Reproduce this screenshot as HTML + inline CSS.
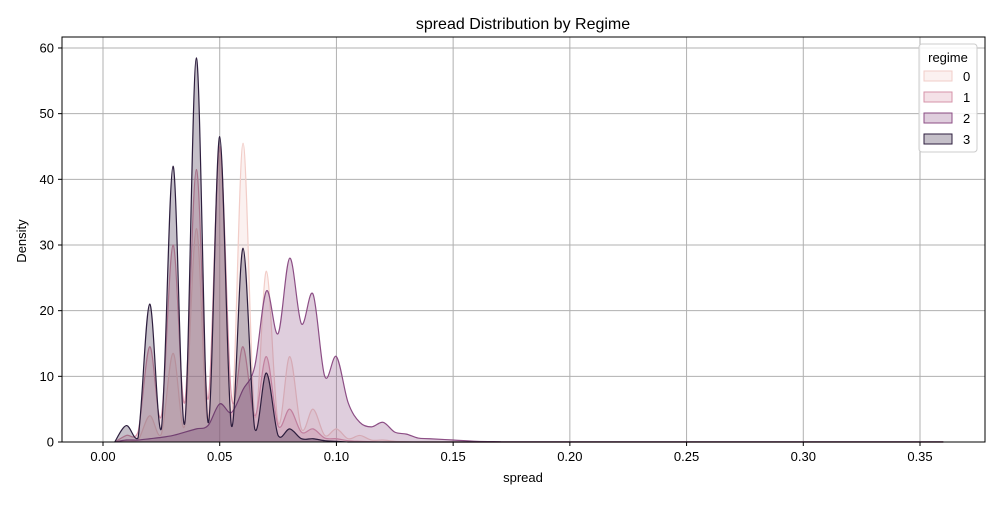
<!DOCTYPE html>
<html><head><meta charset="utf-8"><style>
body{margin:0;background:#fff;font-family:"Liberation Sans","DejaVu Sans",sans-serif}
svg text{font-family:"Liberation Sans","DejaVu Sans",sans-serif}
</style></head><body>
<svg id="chart" width="1000" height="500" xmlns="http://www.w3.org/2000/svg">
<text x="523" y="29" font-size="16" text-anchor="middle">spread Distribution by Regime</text>
<g id="grid"></g>
<g id="series"></g>
<rect x="62" y="37" width="923" height="405" fill="none" stroke="#000" stroke-width="1"/>
<g id="axes"></g>
<text x="523" y="482" font-size="13" text-anchor="middle">spread</text>
<text x="26" y="241" font-size="13" text-anchor="middle" transform="rotate(-90 26 241)">Density</text>
<g id="legend"></g>
</svg>
<script>
const xKnots=[0.005,0.01,0.015,0.02,0.025,0.03,0.035,0.04,0.045,0.05,0.055,0.06,0.065,0.07,0.075,0.08,0.085,0.09,0.095,0.10,0.105,0.11,0.115,0.12,0.125,0.13,0.135,0.14,0.15,0.16,0.17,0.18,0.36];
const regime0=[0,0.2,0.3,4,1.2,13.5,2.5,32.5,3.5,44,4,45.5,4,26,3,13,2,5,1,2,0.5,1,0.3,0.3,0.1,0.05,0,0,0,0,0,0,0];
const regime1=[0,1,1.5,14.5,4,30,6,41.5,6.5,45,7,14.5,4,13,2.5,5,1.5,2,0.6,0.5,0.2,0.1,0.05,0,0,0,0,0,0,0,0,0,0];
const regime2=[0,0.3,0.3,0.5,0.7,1,1.5,2,2.5,5.8,4.5,8,11.5,23,16.5,28,18,22.5,10,13,6,3,2.3,3,1.5,1.2,0.6,0.5,0.3,0.1,0.05,0.02,0.02];
const regime3=[0,2.5,0.6,21,2,42,2.8,58.5,3,46.5,2.5,29.5,2,10.5,1,2,0.5,0.5,0.2,0.1,0,0,0,0,0,0,0,0,0,0,0,0,0];
const seriesNames=["0","1","2","3"];
const seriesValues=[regime0,regime1,regime2,regime3];
const colors=["#f2cdc8","#d693a8","#8c4e85","#2d1e3e"];
const xTicks=[0,0.05,0.1,0.15,0.2,0.25,0.3,0.35];
const xTickLabels=["0.00","0.05","0.10","0.15","0.20","0.25","0.30","0.35"];
const yTicks=[0,10,20,30,40,50,60];
const NS="http://www.w3.org/2000/svg";
const X=v=>103+v/0.35*817, Y=v=>442-v*6.567;
function mk(t,a,p){const e=document.createElementNS(NS,t);for(const k in a)e.setAttribute(k,a[k]);p.appendChild(e);return e;}
const grid=document.getElementById('grid'),axes=document.getElementById('axes');
xTicks.forEach((t,i)=>{
 const g=mk('line',{x1:X(t),x2:X(t),y1:37,y2:442,stroke:'#b0b0b0','stroke-width':1},grid);
 
 mk('line',{x1:X(t),x2:X(t),y1:442,y2:446,stroke:'#000'},axes);
 const l=mk('text',{x:X(t),y:461,'font-size':13,'text-anchor':'middle'},axes);l.textContent=xTickLabels[i];
 
});
yTicks.forEach(t=>{
 const g=mk('line',{x1:62,x2:985,y1:Y(t),y2:Y(t),stroke:'#b0b0b0','stroke-width':1},grid);
 
 mk('line',{x1:58,x2:62,y1:Y(t),y2:Y(t),stroke:'#000'},axes);
 const l=mk('text',{x:54,y:Y(t)+4.5,'font-size':13,'text-anchor':'end'},axes);l.textContent=t;
 
});
function curve(vals){
 const pts=xKnots.map((x,i)=>[X(x),Y(vals[i])]);
 let d=`M${pts[0][0]},${pts[0][1]}`;
 for(let i=0;i<pts.length-1;i++){
  const p0=pts[Math.max(0,i-1)],p1=pts[i],p2=pts[i+1],p3=pts[Math.min(pts.length-1,i+2)];
  let c1y=p1[1]+(p2[1]-p0[1])/6,c2y=p2[1]-(p3[1]-p1[1])/6;
  c1y=Math.min(c1y,442);c2y=Math.min(c2y,442);
  d+=` C${p1[0]+(p2[0]-p0[0])/6},${c1y} ${p2[0]-(p3[0]-p1[0])/6},${c2y} ${p2[0]},${p2[1]}`;
 }
 return d;
}
const sg=document.getElementById('series');
seriesValues.forEach((vals,i)=>{
 const d=curve(vals);
 const a=mk('path',{d:d+` L${X(xKnots[xKnots.length-1])},442 L${X(xKnots[0])},442 Z`,fill:colors[i],'fill-opacity':0.28,stroke:'none'},sg);
 
 const l=mk('path',{d:d,fill:'none',stroke:colors[i],'stroke-width':1.2},sg);
 
});
const lg=document.getElementById('legend');
const box=mk('rect',{x:919,y:44,width:58,height:108,fill:'#fff','fill-opacity':0.85,stroke:'#ccc',rx:3},lg);

const tt=mk('text',{x:948,y:62,'font-size':13,'text-anchor':'middle'},lg);tt.textContent='regime';

seriesNames.forEach((n,i)=>{
 const y=71+i*21;
 const r=mk('rect',{x:924,y:y,width:28,height:10,fill:colors[i],'fill-opacity':0.28,stroke:colors[i]},lg);
 
 const t=mk('text',{x:963,y:y+10,'font-size':13},lg);t.textContent=n;
 
});
</script>
</body></html>
